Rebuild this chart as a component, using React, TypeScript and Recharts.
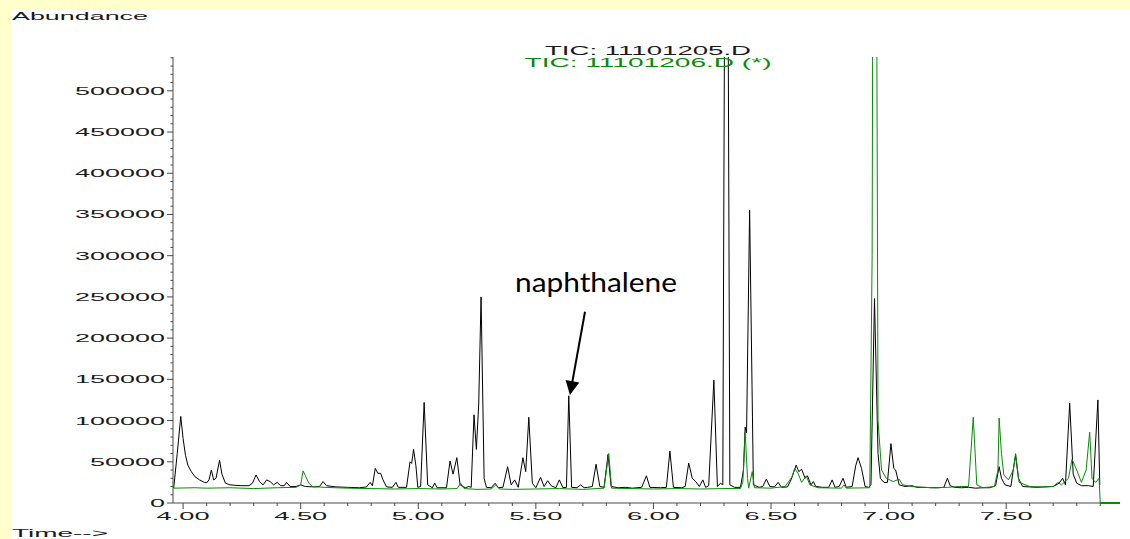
import React from 'react';
import { LineChart, Line, XAxis, YAxis, ReferenceLine } from 'recharts';

const W = 1130;
const H = 539;
const FONT = "'Liberation Sans', Arial, Helvetica, sans-serif";
const GREEN = '#0a8a0a';

const X_DOMAIN: [number, number] = [3.957, 7.984];
const Y_DOMAIN: [number, number] = [0, 541000];
const RUN_END = 7.9; // time axis line ends where the acquisition stops

// tick positions (every 0.1 min / every 10000 counts; labelled every 0.5 / 50000)
const xTicks: number[] = [];
for (let i = 40; i <= 79; i++) xTicks.push(i / 10);
const yTicks: number[] = [];
for (let i = 0; i <= 54; i++) yTicks.push(i * 10000);

const titleRun1 = 'TIC: 11101205.D';
const titleRun2 = 'TIC: 11101206.D (*)';
const yAxisTitle = 'Abundance';
const xAxisTitle = 'Time-->';
const annotationText = 'naphthalene';

// [time (min), abundance]
const blackTrace: [number, number][] = [
  [3.96, 18000], [3.975, 60000], [3.99, 105000], [4.0, 78000], [4.01, 58000], [4.02, 46000],
  [4.035, 38000], [4.05, 32000], [4.07, 28000], [4.09, 25000], [4.1, 24500], [4.11, 28000],
  [4.12, 40000], [4.13, 28000], [4.14, 30000], [4.155, 52000], [4.165, 35000], [4.18, 24000],
  [4.2, 22000], [4.22, 21500], [4.25, 21000], [4.28, 21000], [4.295, 24000], [4.31, 34000],
  [4.325, 26000], [4.34, 22000], [4.355, 28000], [4.37, 26000], [4.385, 22000], [4.4, 25000],
  [4.415, 21000], [4.43, 21000], [4.44, 25000], [4.455, 20000], [4.48, 20000], [4.5, 22000],
  [4.52, 20000], [4.56, 19500], [4.58, 20000], [4.595, 26000], [4.61, 21000], [4.65, 19500],
  [4.7, 19000], [4.75, 18500], [4.78, 19500], [4.795, 25000], [4.805, 21000], [4.817, 42000],
  [4.828, 36000], [4.84, 36000], [4.85, 28000], [4.865, 19500], [4.89, 19000], [4.905, 25000],
  [4.915, 19000], [4.95, 19000], [4.965, 50000], [4.972, 48000], [4.98, 65000], [4.99, 45000],
  [4.998, 19000], [5.01, 20000], [5.025, 122000], [5.04, 22000], [5.06, 18500], [5.07, 24000],
  [5.08, 18500], [5.12, 18500], [5.135, 51000], [5.148, 35000], [5.164, 55000], [5.178, 22000],
  [5.2, 18500], [5.215, 20000], [5.225, 19000], [5.237, 107000], [5.247, 65000], [5.257, 120000],
  [5.267, 250000], [5.28, 30000], [5.29, 19000], [5.31, 18500], [5.327, 24000], [5.34, 18500],
  [5.36, 19000], [5.38, 44000], [5.395, 22000], [5.41, 28000], [5.425, 19000], [5.445, 55000],
  [5.457, 38000], [5.47, 104000], [5.485, 24000], [5.5, 18500], [5.52, 31000], [5.535, 20000],
  [5.55, 27000], [5.565, 21000], [5.585, 18500], [5.6, 28000], [5.615, 18500], [5.63, 19000],
  [5.64, 130000], [5.652, 19000], [5.675, 18500], [5.69, 22000], [5.705, 18500], [5.72, 19000],
  [5.74, 20000], [5.756, 47000], [5.772, 20000], [5.79, 19000], [5.807, 59000], [5.82, 20000],
  [5.85, 18500], [5.88, 19000], [5.91, 18000], [5.95, 19000], [5.97, 33000], [5.985, 19000],
  [6.03, 18500], [6.055, 19000], [6.07, 63000], [6.085, 19000], [6.12, 18500], [6.135, 20000],
  [6.15, 48500], [6.165, 30000], [6.18, 26000], [6.195, 20000], [6.21, 28000], [6.222, 19000],
  [6.235, 21000], [6.257, 149000], [6.272, 20000], [6.285, 24000], [6.295, 22000], [6.31, 1200000],
  [6.325, 22000], [6.345, 19000], [6.37, 19000], [6.383, 40000], [6.39, 92000], [6.396, 85000],
  [6.409, 355000], [6.425, 22000], [6.45, 19000], [6.465, 20000], [6.48, 29000], [6.495, 20000],
  [6.515, 19500], [6.53, 25000], [6.545, 19000], [6.57, 19500], [6.585, 28000], [6.607, 46000],
  [6.618, 38000], [6.63, 41000], [6.645, 30000], [6.655, 33000], [6.67, 22000], [6.68, 26000],
  [6.69, 20000], [6.72, 19000], [6.745, 19000], [6.76, 28000], [6.772, 19000], [6.79, 20000],
  [6.806, 30000], [6.82, 19000], [6.845, 20000], [6.86, 45000], [6.87, 55000], [6.885, 42000],
  [6.9, 20000], [6.915, 19000], [6.925, 22000], [6.94, 248000], [6.955, 60000], [6.965, 30000],
  [6.98, 25000], [6.995, 25000], [7.01, 72000], [7.022, 42000], [7.03, 40000], [7.045, 22000],
  [7.07, 20000], [7.1, 21000], [7.12, 19000], [7.15, 19000], [7.18, 18500], [7.21, 18500],
  [7.235, 19000], [7.25, 30000], [7.262, 21000], [7.28, 19000], [7.31, 18500], [7.34, 19000],
  [7.37, 18000], [7.4, 18500], [7.43, 18500], [7.455, 21000], [7.47, 44000], [7.48, 30000],
  [7.495, 22000], [7.52, 20000], [7.53, 40000], [7.54, 58000], [7.552, 30000], [7.57, 20000],
  [7.6, 19500], [7.63, 19000], [7.66, 19500], [7.7, 20000], [7.725, 24000], [7.74, 30000],
  [7.752, 22000], [7.77, 121000], [7.785, 35000], [7.8, 24000], [7.82, 21000], [7.85, 21000],
  [7.87, 20000], [7.89, 125000], [7.898, 22000],
];

const greenTrace: [number, number][] = [
  [3.96, 18000], [4.05, 18500], [4.1, 18000], [4.2, 18500], [4.3, 17500], [4.4, 18500],
  [4.48, 19000], [4.5, 22000], [4.51, 39000], [4.52, 33000], [4.535, 24000], [4.55, 20000],
  [4.6, 19000], [4.7, 18000], [4.8, 17500], [4.9, 17000], [5.0, 17500], [5.1, 17000],
  [5.165, 17500], [5.18, 24000], [5.195, 17500], [5.25, 16500], [5.31, 17000], [5.33, 22000],
  [5.345, 17000], [5.4, 16500], [5.5, 17000], [5.6, 17500], [5.7, 16500], [5.79, 18000],
  [5.81, 60000], [5.822, 18000], [5.9, 17500], [6.0, 17000], [6.1, 17500], [6.2, 17000],
  [6.3, 17500], [6.37, 17500], [6.38, 25000], [6.39, 86000], [6.4, 30000], [6.405, 18000],
  [6.42, 38000], [6.43, 18500], [6.5, 18000], [6.56, 20000], [6.59, 32000], [6.6, 42000],
  [6.615, 36000], [6.63, 25000], [6.65, 33000], [6.665, 22000], [6.7, 18500], [6.8, 18000],
  [6.81, 22000], [6.82, 18000], [6.92, 18500], [6.93, 300000], [6.94, 1500000], [6.955, 100000],
  [6.97, 40000], [6.99, 30000], [7.02, 26000], [7.045, 29000], [7.06, 22000], [7.1, 20000],
  [7.15, 19000], [7.2, 18500], [7.25, 19000], [7.3, 20000], [7.34, 20000], [7.36, 104000],
  [7.375, 22000], [7.4, 18500], [7.45, 20000], [7.465, 40000], [7.47, 103000], [7.48, 60000],
  [7.49, 34000], [7.51, 28000], [7.53, 40000], [7.54, 60000], [7.555, 25000], [7.6, 20000],
  [7.65, 19500], [7.7, 20000], [7.72, 25000], [7.735, 22000], [7.765, 30000], [7.78, 53000],
  [7.8, 40000], [7.82, 25000], [7.84, 40000], [7.855, 86000], [7.865, 30000], [7.88, 25000],
  [7.895, 30000], [7.9, 0], [7.984, 0],
];

// arrow from the label down to the naphthalene peak, in data coordinates
const arrowFrom = { x: 5.709, y: 232000 };
const arrowTo = { x: 5.645, y: 131000 };

const blackData = blackTrace.map(([t, v]) => ({ t, v }));
const greenData = greenTrace.map(([t, v]) => ({ t, v }));
const greenTail = greenTrace.filter(([t]) => t >= RUN_END).map(([x, y]) => ({ x, y }));

const AXIS_COLOR = '#4a4a4a';
const TEXT_COLOR = '#1a1a1a';

const XTick = (props: any) => {
  const { x, y, payload } = props;
  const v: number = payload.value;
  const major = Math.round(v * 10) % 5 === 0;
  return (
    <g>
      <line x1={x} y1={y} x2={x} y2={y + (major ? 6 : 3)} stroke={AXIS_COLOR} strokeWidth={1} />
      {major && (
        <text x={x} y={y + 17} textAnchor="middle" fontSize={11} fontFamily={FONT} fill={TEXT_COLOR}
          textLength={53} lengthAdjust="spacingAndGlyphs">
          {v.toFixed(2)}
        </text>
      )}
    </g>
  );
};

const YTick = (props: any) => {
  const { x, y, payload } = props;
  const v: number = payload.value;
  const major = v % 50000 === 0;
  const label = String(v);
  return (
    <g>
      <line x1={x - (major ? 6 : 2.5)} y1={y} x2={x} y2={y} stroke={AXIS_COLOR} strokeWidth={1} />
      {major && (
        <text x={x - 8} y={y + 4} textAnchor="end" fontSize={11} fontFamily={FONT} fill={TEXT_COLOR}
          textLength={15 * label.length} lengthAdjust="spacingAndGlyphs">
          {label}
        </text>
      )}
    </g>
  );
};

const ArrowShape = (p: any) => {
  const { x1, y1, x2, y2 } = p;
  if ([x1, y1, x2, y2].some((n) => typeof n !== 'number' || isNaN(n))) return null;
  const dx = x2 - x1;
  const dy = y2 - y1;
  const len = Math.hypot(dx, dy) || 1;
  const ux = dx / len;
  const uy = dy / len;
  const headLen = 14;
  const headW = 7;
  const bx = x2 - ux * headLen;
  const by = y2 - uy * headLen;
  return (
    <g>
      <line x1={x1} y1={y1} x2={bx + ux} y2={by + uy} stroke="#000" strokeWidth={2} />
      <polygon
        points={`${x2},${y2} ${bx - uy * headW},${by + ux * headW} ${bx + uy * headW},${by - ux * headW}`}
        fill="#000"
      />
    </g>
  );
};

// plot area: left 173, top 57, right 1120, bottom 503
const Y_AXIS_W = 60;
const X_AXIS_H = 30;

export default function App() {
  return (
    <div style={{ position: 'fixed', left: 0, top: 0, width: W, height: H, background: '#FFFFCC', overflow: 'hidden' }}>
      <div style={{ position: 'absolute', left: 11, top: 10, right: 0, bottom: 0, background: '#FFFFFF' }} />
      <div style={{ position: 'absolute', left: 0, top: 0 }}>
        <LineChart width={W} height={H} margin={{ top: 57, right: 10, bottom: 36 - X_AXIS_H, left: 173 - Y_AXIS_W }}>
          <XAxis
            dataKey="t"
            type="number"
            domain={X_DOMAIN}
            allowDataOverflow
            ticks={xTicks}
            interval={0}
            height={X_AXIS_H}
            tickSize={0}
            tickMargin={0}
            tickLine={false}
            axisLine={false}
            tick={<XTick />}
          />
          <YAxis
            dataKey="v"
            type="number"
            domain={Y_DOMAIN}
            allowDataOverflow
            ticks={yTicks}
            interval={0}
            width={Y_AXIS_W}
            tickSize={0}
            tickMargin={0}
            tickLine={false}
            tick={<YTick />}
            stroke={AXIS_COLOR}
          />
          <ReferenceLine
            segment={[{ x: X_DOMAIN[0], y: 0 }, { x: RUN_END, y: 0 }]}
            stroke={AXIS_COLOR}
            strokeWidth={1.2}
            ifOverflow="visible"
          />
          <Line data={blackData} dataKey="v" type="linear" stroke="#000000" strokeWidth={1} dot={false}
            activeDot={false} isAnimationActive={false} />
          <Line data={greenData} dataKey="v" type="linear" stroke={GREEN} strokeWidth={1} dot={false}
            activeDot={false} isAnimationActive={false} />
          <ReferenceLine
            segment={[greenTail[0], greenTail[greenTail.length - 1]]}
            stroke={GREEN}
            strokeWidth={2}
            ifOverflow="visible"
          />
          <ReferenceLine segment={[arrowFrom, arrowTo]} shape={<ArrowShape />} ifOverflow="visible" />
        </LineChart>
      </div>
      <svg width={W} height={H} style={{ position: 'absolute', left: 0, top: 0, pointerEvents: 'none' }}>
        <text x={12} y={20} fontSize={11} fontFamily={FONT} fill={TEXT_COLOR} textLength={136} lengthAdjust="spacingAndGlyphs">
          {yAxisTitle}
        </text>
        <text x={12} y={537} fontSize={11} fontFamily={FONT} fill={TEXT_COLOR} textLength={96} lengthAdjust="spacingAndGlyphs">
          {xAxisTitle}
        </text>
        <text x={648} y={55} textAnchor="middle" fontSize={12} fontFamily={FONT} fill={TEXT_COLOR} textLength={206} lengthAdjust="spacingAndGlyphs">
          {titleRun1}
        </text>
        <text x={648} y={67} textAnchor="middle" fontSize={12} fontFamily={FONT} fill={GREEN} textLength={247} lengthAdjust="spacingAndGlyphs">
          {titleRun2}
        </text>
        <text x={515} y={292} fontSize={26} fontFamily="Lato, 'Open Sans', sans-serif" fill="#000" textLength={162} lengthAdjust="spacingAndGlyphs">
          {annotationText}
        </text>
      </svg>
    </div>
  );
}
